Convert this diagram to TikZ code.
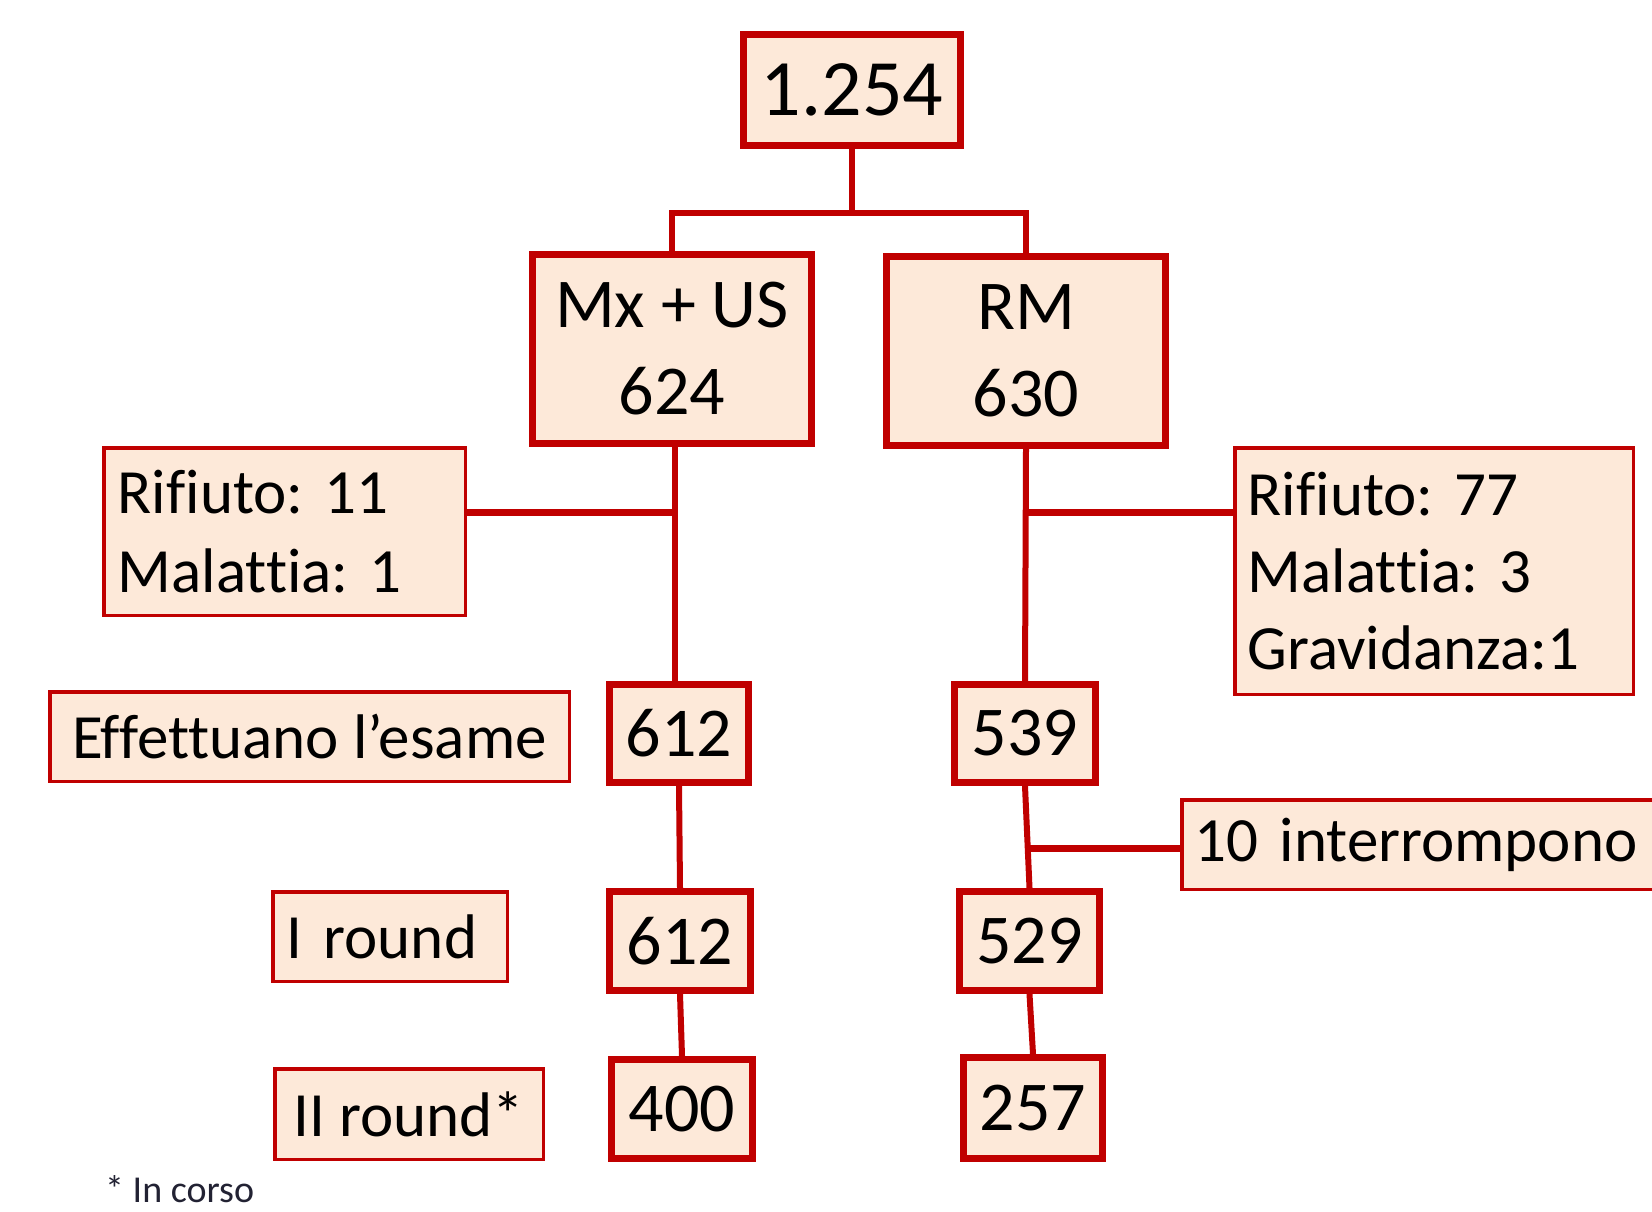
\documentclass[tikz,border=0pt]{standalone}
\usepackage{fontspec}
\setmainfont{Carlito}[Ligatures=NoCommon]
\frenchspacing
\definecolor{boxred}{HTML}{C00000}
\definecolor{boxfill}{HTML}{FDE9D9}
\definecolor{notegray}{HTML}{222233}
\tikzset{
  numbox/.style={draw=boxred, fill=boxfill, line width=7pt, inner sep=0pt, align=center,
    font=\fontsize{70}{87}\selectfont, line join=miter},
  sidebox/.style={draw=boxred, fill=boxfill, line width=3.5pt, inner ysep=0pt,
    font=\fontsize{63}{79}\selectfont, line join=miter},
  conn/.style={draw=boxred, line width=6pt, line join=miter},
  sconn/.style={draw=boxred, line width=7pt}
}
\begin{document}
\begin{tikzpicture}[x=1pt,y=-1pt]
\useasboundingbox (0,0) rectangle (1652,1211);
% top
\node[numbox, minimum width=217pt, minimum height=111pt, font=\fontsize{80}{96}\selectfont] (n1254) at (852,90) {1.254};
\node[numbox, minimum width=279pt, minimum height=189pt] (mx) at (672,349) {Mx + US\\624};
\node[numbox, minimum width=279pt, minimum height=189pt] (rm) at (1026,351) {RM\\630};
% number boxes
\node[numbox, minimum width=139pt, minimum height=98pt] (e612a) at (679,733.5) {612};
\node[numbox, minimum width=141pt, minimum height=99pt] (e612b) at (680,941) {612};
\node[numbox, minimum width=141pt, minimum height=99pt] (e400) at (682,1109) {400};
\node[numbox, minimum width=141pt, minimum height=98pt] (e539) at (1025,733.5) {539};
\node[numbox, minimum width=140pt, minimum height=99pt] (e529) at (1029.5,941) {529};
\node[numbox, minimum width=139pt, minimum height=101pt] (e257) at (1033,1108) {257};
% side boxes
\node[sidebox, inner xsep=14pt, text width=333.5pt, align=left, minimum width=361.5pt, minimum height=167.5pt] (lbox) at (284.5,531.5) {Rifiuto: 11\\Malattia: 1};
\node[sidebox, inner xsep=13pt, text width=372.5pt, align=left, minimum width=398.5pt, minimum height=246.5pt, font=\fontsize{63}{77}\selectfont] (rbox) at (1434,571) {Rifiuto: 77\\Malattia: 3\\Gravidanza:1};
\node[sidebox, inner xsep=0pt, minimum width=519.5pt, minimum height=89.5pt] (eff) at (309.5,736.5) {Effettuano l’esame};
\node[sidebox, inner xsep=14pt, text width=206.5pt, align=left, minimum width=234.5pt, minimum height=89.5pt] (iround) at (390,936.5) {I round};
\node[sidebox, inner xsep=0pt, minimum width=268.5pt, minimum height=90.5pt] (iiround) at (409,1114) {II round*};
\node[sidebox, inner xsep=13pt, text width=455.5pt, align=left, minimum width=481.5pt, minimum height=89.5pt] (int10) at (1422.5,844.5) {10 interrompono};
% footnote
\node[anchor=base west, inner sep=0pt, text=notegray, font=\fontsize{38}{44}\selectfont] (note) at (105,1202) {* In corso};
% connectors
\coordinate (j) at (852,213);
\draw[conn] (n1254.south) -- (j);
\draw[conn] (mx.north) |- (j) -| (rm.north);
\draw[conn] ([xshift=3pt]mx.south) -- ([xshift=3pt]mx.south |- e612a.north);
\draw[conn] (e612a.south) -- (e612b.north);
\draw[conn] (e612b.south) -- (e400.north);
\draw[conn] (rm.south) -- (e539.north);
\draw[conn] (e539.south) -- (e529.north);
\draw[conn] (e529.south) -- (e257.north);
\coordinate (lj) at (675,512);
\coordinate (rj) at (1025.5,512);
\coordinate (ij) at (1027.7,848);
\draw[sconn] (lj) -- (lj -| lbox.east);
\draw[sconn] (rj) -- (rj -| rbox.west);
\draw[sconn] (ij) -- (ij -| int10.west);
\end{tikzpicture}
\end{document}
